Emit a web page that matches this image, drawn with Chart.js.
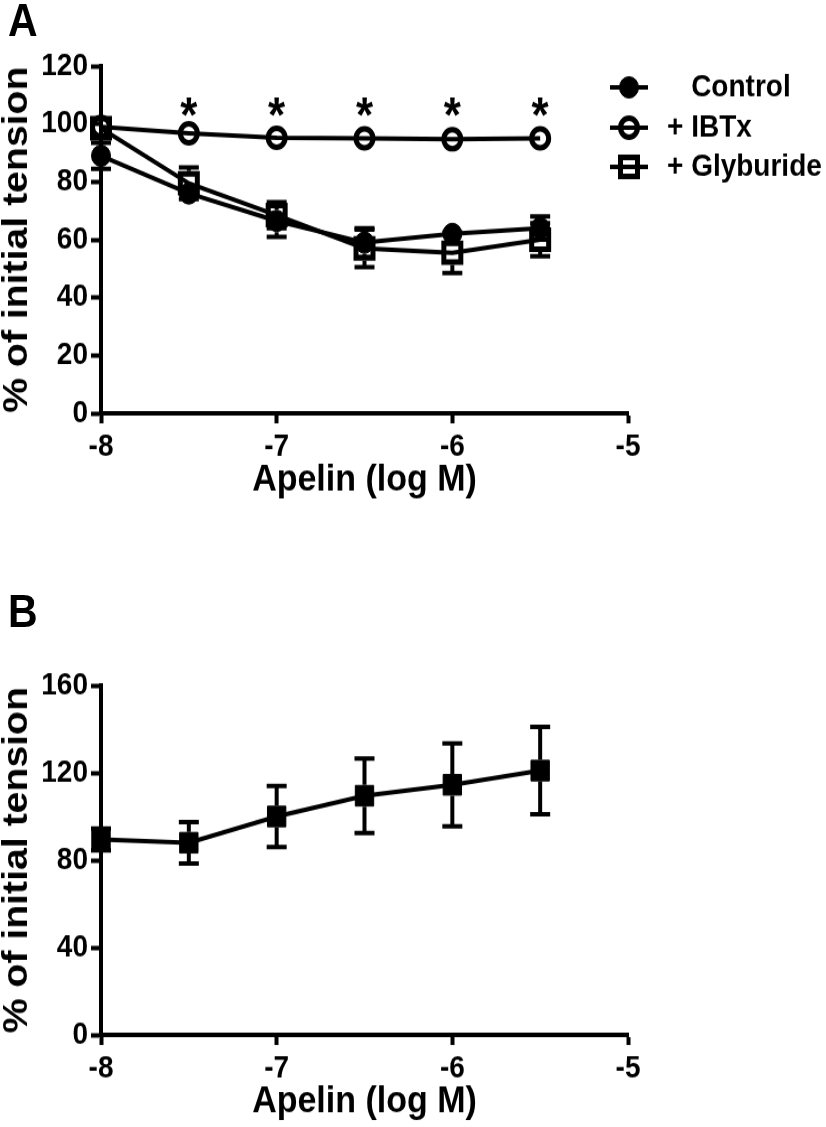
<!DOCTYPE html>
<html>
<head>
<meta charset="utf-8">
<script src="https://cdn.jsdelivr.net/npm/chart.js@4.4.0/dist/chart.umd.min.js"></script>
<style>
html, body { margin: 0; padding: 0; background: #fff; }
body { width: 826px; height: 1127px; overflow: hidden; position: relative; }
/* the source figure is a little taller than wide, so the whole drawing is stretched vertically */
#wrap { position: absolute; left: 0; top: 0; width: 826px; height: 1001px; transform: scaleY(1.12); transform-origin: 0 0; }
#wrap canvas { position: absolute; left: 0; }
.panel-label { position: absolute; left: 8px; font: bold 41px "Liberation Sans", Arial, sans-serif; line-height: 1; color: #000; }
</style>
</head>
<body>
<div id="wrap">
  <canvas id="chartA" width="826" height="446" style="top:0px"></canvas>
  <canvas id="chartB" width="826" height="555" style="top:446px"></canvas>
  <div class="panel-label" style="top:-2px">A</div>
  <div class="panel-label" style="top:526px">B</div>
</div>
<script>
// apelin concentrations (log M)
const doses = [-8, -7.5, -7, -6.5, -6, -5.5];

// panel A
const seriesLabels = ['Control', '+ IBTx', '+ Glyburide'];
const controlMean = [89, 76, 66.5, 59, 62, 64];
const controlSem = [4.5, 3, 5.5, 5, 2, 4];
const ibtxMean = [99, 96.8, 95.2, 95, 94.7, 95];
const ibtxSem = [1.5, 1.5, 1.5, 1.5, 1.5, 1.5];
const glybMean = [98.5, 79.5, 68.5, 57, 55.5, 60];
const glybSem = [2, 5.5, 4.5, 6.5, 7, 5.7];
const starDoses = [-7.5, -7, -6.5, -6, -5.5];
const starLevel = 107;

// panel B
const bMean = [89.5, 88, 100, 109.5, 114.5, 121];
const bSem = [5, 9.5, 14, 17, 19, 20];

const xTicks = [-8, -7, -6, -5];
const yTicksA = [0, 20, 40, 60, 80, 100, 120];
const yTicksB = [0, 40, 80, 120, 160];

const FONT = '"Liberation Sans", Arial, Helvetica, sans-serif';
Chart.defaults.font.family = FONT;
Chart.defaults.color = '#000';

function pts(means) {
    return doses.map((d, i) => ({x: d, y: means[i]}));
}

function markerHalf(ds) {
    if (ds.pointStyle === 'rect') return ds.pointRadius * Math.SQRT1_2 + ds.pointBorderWidth / 2;
    return ds.pointRadius + ds.pointBorderWidth / 2;
}

function drawMarker(ctx, ds, x, y) {
    ctx.save();
    ctx.lineWidth = ds.pointBorderWidth;
    ctx.strokeStyle = '#000';
    ctx.fillStyle = ds.pointBackgroundColor;
    ctx.beginPath();
    if (ds.pointStyle === 'rect') {
        const h = ds.pointRadius * Math.SQRT1_2;
        ctx.rect(x - h, y - h, 2 * h, 2 * h);
    } else {
        ctx.arc(x, y, ds.pointRadius, 0, Math.PI * 2);
    }
    ctx.fill();
    ctx.stroke();
    ctx.restore();
}

// SEM bars, hidden where they pass behind the symbol
const errorBars = {
    id: 'errorBars',
    beforeDatasetsDraw(chart) {
        const ctx = chart.ctx;
        const yScale = chart.scales.y;
        ctx.save();
        ctx.strokeStyle = '#000';
        ctx.lineWidth = 4;
        chart.data.datasets.forEach((ds, i) => {
            const meta = chart.getDatasetMeta(i);
            const gap = markerHalf(ds);
            meta.data.forEach((pt, j) => {
                const v = ds.data[j].y;
                const top = yScale.getPixelForValue(v + ds.errors[j]);
                const bot = yScale.getPixelForValue(v - ds.errors[j]);
                [[top, pt.y - gap], [bot, pt.y + gap]].forEach(([end, edge]) => {
                    if (Math.abs(end - pt.y) <= gap) return;
                    ctx.beginPath();
                    ctx.moveTo(pt.x, edge);
                    ctx.lineTo(pt.x, end);
                    ctx.moveTo(pt.x - 10, end);
                    ctx.lineTo(pt.x + 10, end);
                    ctx.stroke();
                });
            });
        });
        ctx.restore();
    }
};

const stars = {
    id: 'stars',
    afterDatasetsDraw(chart) {
        const ctx = chart.ctx;
        const size = 44;
        ctx.save();
        ctx.font = 'bold ' + size + 'px ' + FONT;
        ctx.fillStyle = '#000';
        ctx.textAlign = 'center';
        ctx.textBaseline = 'alphabetic';
        starDoses.forEach(d => {
            const x = chart.scales.x.getPixelForValue(d);
            const y = chart.scales.y.getPixelForValue(starLevel);
            ctx.fillText('*', x, y + 0.58 * size);
        });
        ctx.restore();
    }
};

const sideLegend = {
    id: 'sideLegend',
    afterDraw(chart) {
        const ctx = chart.ctx;
        const rows = [78, 114, 149];
        ctx.save();
        ctx.font = 'bold 28px ' + FONT;
        ctx.textBaseline = 'middle';
        const indent = ctx.measureText('+ ').width;
        chart.data.datasets.forEach((ds, i) => {
            const y = rows[i];
            ctx.strokeStyle = '#000';
            ctx.lineWidth = 4;
            ctx.beginPath();
            ctx.moveTo(610, y);
            ctx.lineTo(648, y);
            ctx.stroke();
            drawMarker(ctx, ds, 629, y);
            ctx.fillStyle = '#000';
            ctx.fillText(ds.label, ds.label.startsWith('+') ? 667 : 667 + indent, y);
        });
        ctx.restore();
    }
};

function axes(yTicks) {
    return {
        x: {
            type: 'linear',
            min: xTicks[0],
            max: xTicks[xTicks.length - 1],
            afterBuildTicks: s => { s.ticks = xTicks.map(v => ({value: v})); },
            ticks: {font: {size: 28, weight: 'bold'}, color: '#000', padding: 4, maxRotation: 0},
            grid: {drawOnChartArea: false, tickLength: 9, tickWidth: 4, tickColor: '#000'},
            border: {width: 4, color: '#000'},
            title: {display: true, text: 'Apelin (log M)', color: '#000', padding: 0,
                    font: {size: 34, weight: 'bold', lineHeight: 1}},
            afterFit: s => { s.height = 77; }
        },
        y: {
            min: yTicks[0],
            max: yTicks[yTicks.length - 1],
            afterBuildTicks: s => { s.ticks = yTicks.map(v => ({value: v})); },
            ticks: {font: {size: 28, weight: 'bold'}, color: '#000', padding: 3},
            grid: {drawOnChartArea: false, tickLength: 10, tickWidth: 4, tickColor: '#000'},
            border: {width: 4, color: '#000'},
            title: {display: true, text: '% of initial tension', color: '#000', padding: 0,
                    font: {size: 35, weight: 'bold', lineHeight: 1}},
            afterFit: s => { s.width = 101; }
        }
    };
}

function lineSet(label, means, sems, style, radius, fill, bw) {
    return {
        label: label,
        data: pts(means),
        errors: sems,
        borderColor: '#000',
        borderWidth: 4,
        tension: 0,
        clip: false,
        pointStyle: style,
        pointRadius: radius,
        pointBackgroundColor: fill,
        pointBorderColor: '#000',
        pointBorderWidth: bw
    };
}

const baseOptions = {
    responsive: false,
    animation: false,
    devicePixelRatio: 1,
    plugins: {legend: {display: false}, tooltip: {enabled: false}}
};

const chartA = new Chart(document.getElementById('chartA'), {
    type: 'line',
    data: {
        datasets: [
            lineSet(seriesLabels[0], controlMean, controlSem, 'circle', 9.5, '#000', 1),
            lineSet(seriesLabels[1], ibtxMean, ibtxSem, 'circle', 8.5, 'rgba(0,0,0,0)', 5),
            lineSet(seriesLabels[2], glybMean, glybSem, 'rect', 12, 'rgba(0,0,0,0)', 5)
        ]
    },
    options: Object.assign({}, baseOptions, {
        layout: {padding: {top: 59, left: 0, right: 198, bottom: 0}},
        scales: axes(yTicksA)
    }),
    plugins: [errorBars, stars, sideLegend]
});

const chartB = new Chart(document.getElementById('chartB'), {
    type: 'line',
    data: {
        datasets: [
            lineSet('Apelin', bMean, bSem, 'rect', 13, '#000', 1)
        ]
    },
    options: Object.assign({}, baseOptions, {
        layout: {padding: {top: 166, left: 0, right: 198, bottom: 0}},
        scales: axes(yTicksB)
    }),
    plugins: [errorBars]
});
</script>
</body>
</html>
